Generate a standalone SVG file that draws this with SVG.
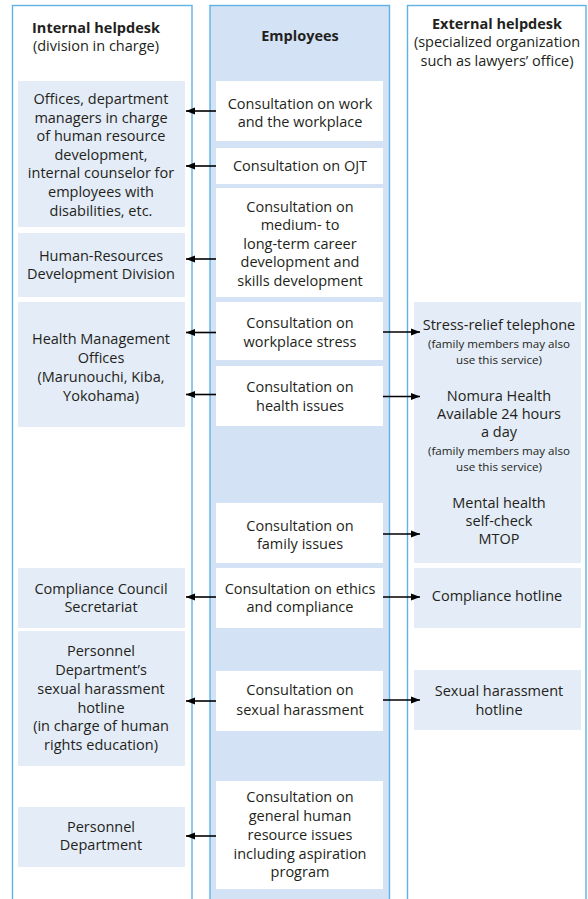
<svg xmlns="http://www.w3.org/2000/svg" width="588" height="899" viewBox="0 0 588 899">
<defs>
<marker id="ah" markerWidth="10" markerHeight="8" refX="9" refY="4" orient="auto" markerUnits="userSpaceOnUse">
<path d="M0,0.5 L9,4 L0,7.5 Z" fill="#000"/>
</marker>
<style>
.col{fill:#fff;stroke:#5eb3e4;stroke-width:1.4}
.colm{fill:#d3e2f4;stroke:#5eb3e4;stroke-width:1.4}
.bx{fill:#e4ecf7}
.wb{fill:#fff}
text{font-family:"Open Sans","Noto Sans","DejaVu Sans",sans-serif;font-size:14.5px;fill:#231f20;text-anchor:middle}
.b{font-weight:bold;font-size:14.5px}
.s{font-size:11.6px}
.ar{stroke:#000;stroke-width:1.6;fill:none;marker-end:url(#ah)}
</style>
</defs>
<g id="columns">
<rect class="col" x="12.5" y="5.5" width="179.5" height="910"/>
<rect class="colm" x="210" y="5.5" width="179.5" height="910"/>
<rect class="col" x="407.5" y="5.5" width="178.5" height="910"/>
</g>
<g id="hdr-internal">
<text class="b" x="96" y="33">Internal helpdesk</text>
<text x="96" y="51">(division in charge)</text>
</g>
<g id="hdr-employees">
<text class="b" x="300" y="41">Employees</text>
</g>
<g id="hdr-external">
<text class="b" x="497" y="29">External helpdesk</text>
<text x="497" y="47">(specialized organization</text>
<text x="497" y="66">such as lawyers’ office)</text>
</g>
<g id="int-offices">
<rect class="bx" x="18" y="81" width="167" height="146"/>
<text x="101" y="104">Offices, department</text>
<text x="101" y="122.5">managers in charge</text>
<text x="101" y="141">of human resource</text>
<text x="101" y="160">development,</text>
<text x="101" y="178">internal counselor for</text>
<text x="101" y="197">employees with</text>
<text x="101" y="216">disabilities, etc.</text>
</g>
<g id="int-hrdd">
<rect class="bx" x="18" y="233" width="167" height="64"/>
<text x="101" y="261">Human-Resources</text>
<text x="101" y="279">Development Division</text>
</g>
<g id="int-health">
<rect class="bx" x="18" y="302" width="167" height="125"/>
<text x="101" y="344">Health Management</text>
<text x="101" y="363">Offices</text>
<text x="101" y="382">(Marunouchi, Kiba,</text>
<text x="101" y="401">Yokohama)</text>
</g>
<g id="int-compliance">
<rect class="bx" x="18" y="568" width="167" height="60"/>
<text x="101" y="594">Compliance Council</text>
<text x="101" y="612">Secretariat</text>
</g>
<g id="int-sh">
<rect class="bx" x="18" y="631" width="167" height="135"/>
<text x="101" y="656">Personnel</text>
<text x="101" y="675">Department’s</text>
<text x="101" y="694">sexual harassment</text>
<text x="101" y="713">hotline</text>
<text x="101" y="731">(in charge of human</text>
<text x="101" y="750">rights education)</text>
</g>
<g id="int-personnel">
<rect class="bx" x="18" y="807" width="167" height="60"/>
<text x="101" y="832">Personnel</text>
<text x="101" y="850">Department</text>
</g>
<g id="emp-work">
<rect class="wb" x="216" y="81" width="167" height="60"/>
<text x="300" y="109">Consultation on work</text>
<text x="300" y="127">and the workplace</text>
</g>
<g id="emp-ojt">
<rect class="wb" x="216" y="148" width="167" height="36"/>
<text x="300" y="171">Consultation on OJT</text>
</g>
<g id="emp-career">
<rect class="wb" x="216" y="188" width="167" height="109"/>
<text x="300" y="212">Consultation on</text>
<text x="300" y="230">medium- to</text>
<text x="300" y="249">long-term career</text>
<text x="300" y="267">development and</text>
<text x="300" y="286">skills development</text>
</g>
<g id="emp-stress">
<rect class="wb" x="216" y="302" width="167" height="58"/>
<text x="300" y="328">Consultation on</text>
<text x="300" y="347">workplace stress</text>
</g>
<g id="emp-health">
<rect class="wb" x="216" y="366" width="167" height="60"/>
<text x="300" y="392">Consultation on</text>
<text x="300" y="411">health issues</text>
</g>
<g id="emp-family">
<rect class="wb" x="216" y="503" width="167" height="60"/>
<text x="300" y="531">Consultation on</text>
<text x="300" y="549">family issues</text>
</g>
<g id="emp-ethics">
<rect class="wb" x="216" y="568" width="167" height="60"/>
<text x="300" y="594">Consultation on ethics</text>
<text x="300" y="612">and compliance</text>
</g>
<g id="emp-sh">
<rect class="wb" x="216" y="671" width="167" height="60"/>
<text x="300" y="695">Consultation on</text>
<text x="300" y="715">sexual harassment</text>
</g>
<g id="emp-general">
<rect class="wb" x="216" y="781" width="167" height="108"/>
<text x="300" y="802">Consultation on</text>
<text x="300" y="821">general human</text>
<text x="300" y="840">resource issues</text>
<text x="300" y="859">including aspiration</text>
<text x="300" y="877">program</text>
</g>
<g id="ext-health">
<rect class="bx" x="414" y="302" width="167" height="261"/>
<text x="499" y="330">Stress-relief telephone</text>
<text class="s" x="499" y="347.5">(family members may also</text>
<text class="s" x="499" y="364">use this service)</text>
<text x="499" y="401">Nomura Health</text>
<text x="499" y="419">Available 24 hours</text>
<text x="499" y="437">a day</text>
<text class="s" x="499" y="454.5">(family members may also</text>
<text class="s" x="499" y="471">use this service)</text>
<text x="499" y="508">Mental health</text>
<text x="499" y="526">self-check</text>
<text x="499" y="544">MTOP</text>
</g>
<g id="ext-compliance">
<rect class="bx" x="414" y="568" width="167" height="60"/>
<text x="497" y="601">Compliance hotline</text>
</g>
<g id="ext-sh">
<rect class="bx" x="414" y="670" width="167" height="60"/>
<text x="499" y="696">Sexual harassment</text>
<text x="499" y="715">hotline</text>
</g>
<g id="connectors">
<line class="ar" x1="216" y1="111" x2="186" y2="111"/>
<line class="ar" x1="216" y1="166" x2="186" y2="166"/>
<line class="ar" x1="216" y1="259" x2="186" y2="259"/>
<line class="ar" x1="216" y1="332.5" x2="186" y2="332.5"/>
<line class="ar" x1="216" y1="394.5" x2="186" y2="394.5"/>
<line class="ar" x1="216" y1="597" x2="186" y2="597"/>
<line class="ar" x1="216" y1="701" x2="186" y2="701"/>
<line class="ar" x1="216" y1="836" x2="186" y2="836"/>
<line class="ar" x1="383" y1="332" x2="420" y2="332"/>
<line class="ar" x1="383" y1="396.5" x2="420" y2="396.5"/>
<line class="ar" x1="383" y1="534" x2="420" y2="534"/>
<line class="ar" x1="383" y1="597" x2="420" y2="597"/>
<line class="ar" x1="383" y1="700" x2="420" y2="700"/>
</g>
</svg>
